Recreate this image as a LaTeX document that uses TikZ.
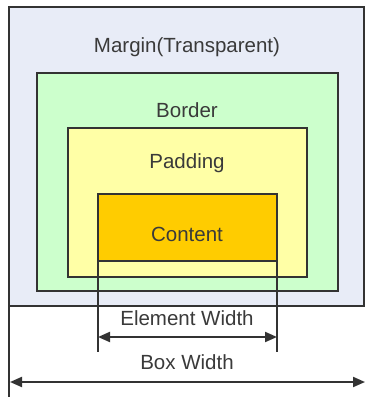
\documentclass[tikz,border=0pt]{standalone}
\usepackage{fontspec}
\setmainfont{Liberation Sans}
\usetikzlibrary{arrows.meta}
\definecolor{marginc}{HTML}{E8ECF7}
\definecolor{borderc}{HTML}{CCFFCC}
\definecolor{paddingc}{HTML}{FFFFA6}
\definecolor{contentc}{HTML}{FFCC00}
\definecolor{linec}{HTML}{333333}
\definecolor{textc}{HTML}{3A3A3A}
\tikzset{
  box/.style={draw=linec, line width=1.4pt, rectangle, inner sep=0pt, outer sep=0pt},
  lbl/.style={text=textc, font=\fontsize{20.5}{24}\selectfont, inner sep=0pt, anchor=center},
  extline/.style={draw=linec, line width=1.4pt},
  dimarrow/.style={draw=linec, line width=2pt, {Triangle[length=12pt,width=10pt]}-{Triangle[length=12pt,width=10pt]}}
}
\begin{document}
\begin{tikzpicture}[x=1pt,y=-1pt]
\useasboundingbox (0,0) rectangle (366,398);
\fill[white] (0,0) rectangle (366,398);
\node[box, fill=marginc, minimum width=355pt, minimum height=299pt] (margin) at (186.5,156.5) {};
\node[box, fill=borderc, minimum width=301pt, minimum height=218pt] (border) at (187.5,182) {};
\node[box, fill=paddingc, minimum width=239pt, minimum height=149pt] (padding) at (187.5,202.5) {};
\node[box, fill=contentc, minimum width=179pt, minimum height=67pt] (content) at (187.5,227.5) {};
\node[lbl] (tmargin) at (187,47) {Margin(Transparent)};
\node[lbl] (tborder) at (187,110) {Border};
\node[lbl] (tpadding) at (187,163) {Padding};
\node[lbl] (tcontent) at (187,234) {Content};
\node[lbl] (telem) at (187,318) {Element Width};
\node[lbl] (tbox) at (187,362) {Box Width};
\coordinate (elL) at (98,352);
\coordinate (elR) at (277,352);
\coordinate (eaL) at (98,337);
\coordinate (eaR) at (277,337);
\coordinate (mbot) at (9,397);
\coordinate (baL) at (10,382);
\coordinate (baR) at (365,382);
\draw[extline] (content.south west) -- (elL);
\draw[extline] (content.south east) -- (elR);
\draw[extline] (margin.south west) -- (mbot);
\draw[dimarrow] (eaL) -- (eaR);
\draw[dimarrow] (baL) -- (baR);
\end{tikzpicture}
\end{document}
